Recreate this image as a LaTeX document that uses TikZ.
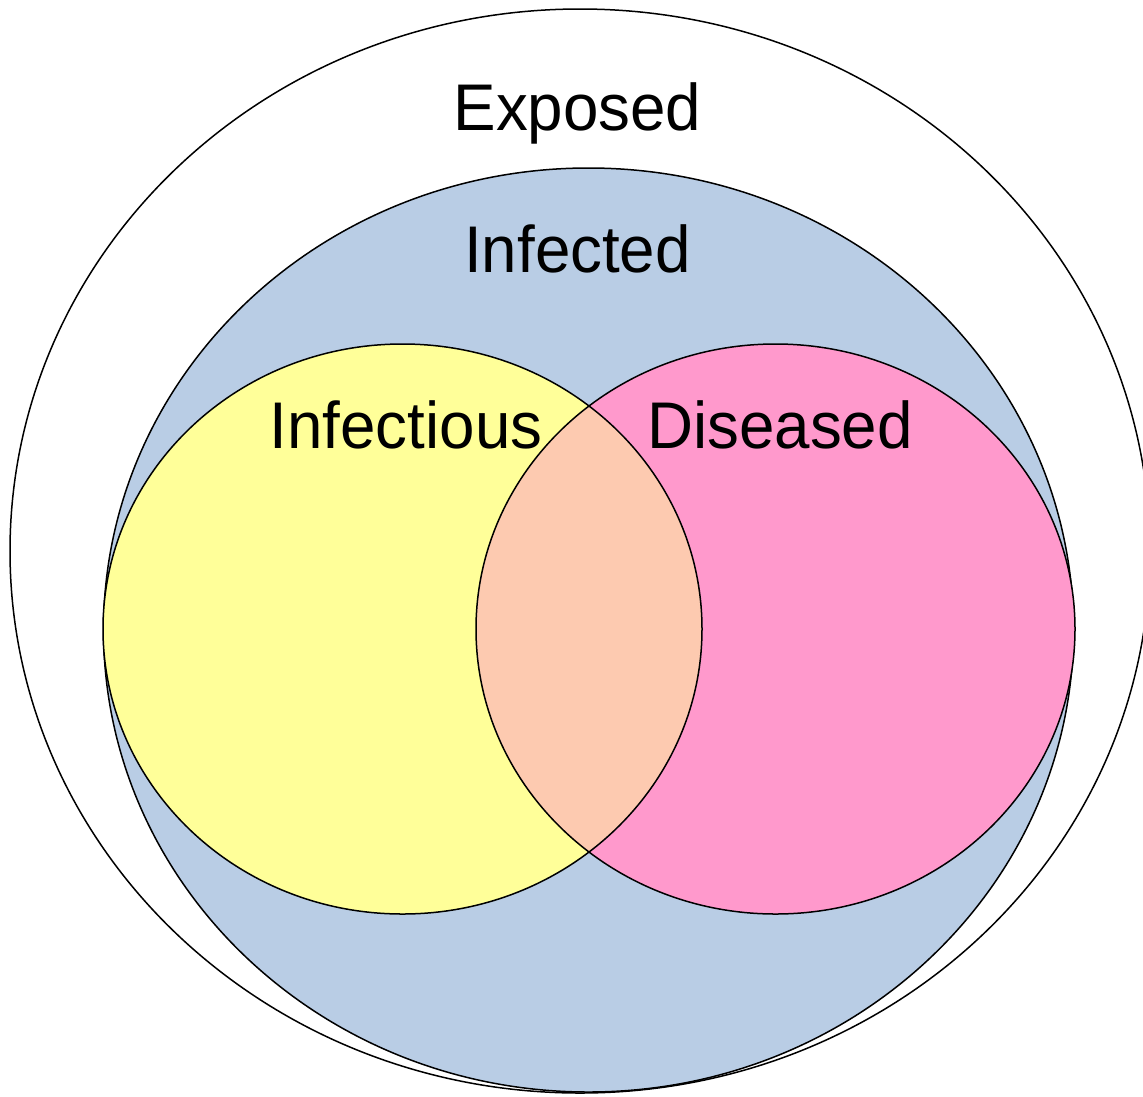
\documentclass[tikz,border=0pt]{standalone}
\usepackage{fontspec}
\setmainfont{Liberation Sans}
\definecolor{infectedblue}{RGB}{185,205,229}
\definecolor{infyellow}{RGB}{255,255,153}
\definecolor{dispink}{RGB}{255,153,204}
\definecolor{overlappeach}{RGB}{253,202,176}
\tikzset{
  ring/.style={draw=black, line width=1.5pt},
  lbl/.style={anchor=base, inner sep=0pt, font=\fontsize{66}{78}\selectfont, xscale=0.965}
}
\begin{document}
\begin{tikzpicture}[x=1pt,y=-1pt]
\useasboundingbox (0,0) rectangle (1143,1096);
\clip (0,0) rectangle (1143,1096);
% Exposed
\draw[ring, fill=white] (580,551) ellipse [x radius=570, y radius=542];
% Infected
\draw[ring, fill=infectedblue] (588.5,630) ellipse [x radius=485, y radius=462];
% Infectious and Diseased
\fill[infyellow] (402.5,629) ellipse [x radius=299.5, y radius=285];
\fill[dispink] (775.5,629) ellipse [x radius=299.5, y radius=285];
\begin{scope}
  \clip (402.5,629) ellipse [x radius=299.5, y radius=285];
  \fill[overlappeach] (775.5,629) ellipse [x radius=299.5, y radius=285];
\end{scope}
\draw[ring] (402.5,629) ellipse [x radius=299.5, y radius=285];
\draw[ring] (775.5,629) ellipse [x radius=299.5, y radius=285];
% labels
\node[lbl] (exposed) at (577.5,130) {Exposed};
\node[lbl] (infected) at (577.5,272) {Infected};
\node[lbl] (infectious) at (406,448) {Infectious};
\node[lbl] (diseased) at (780,448) {Diseased};
\end{tikzpicture}
\end{document}
